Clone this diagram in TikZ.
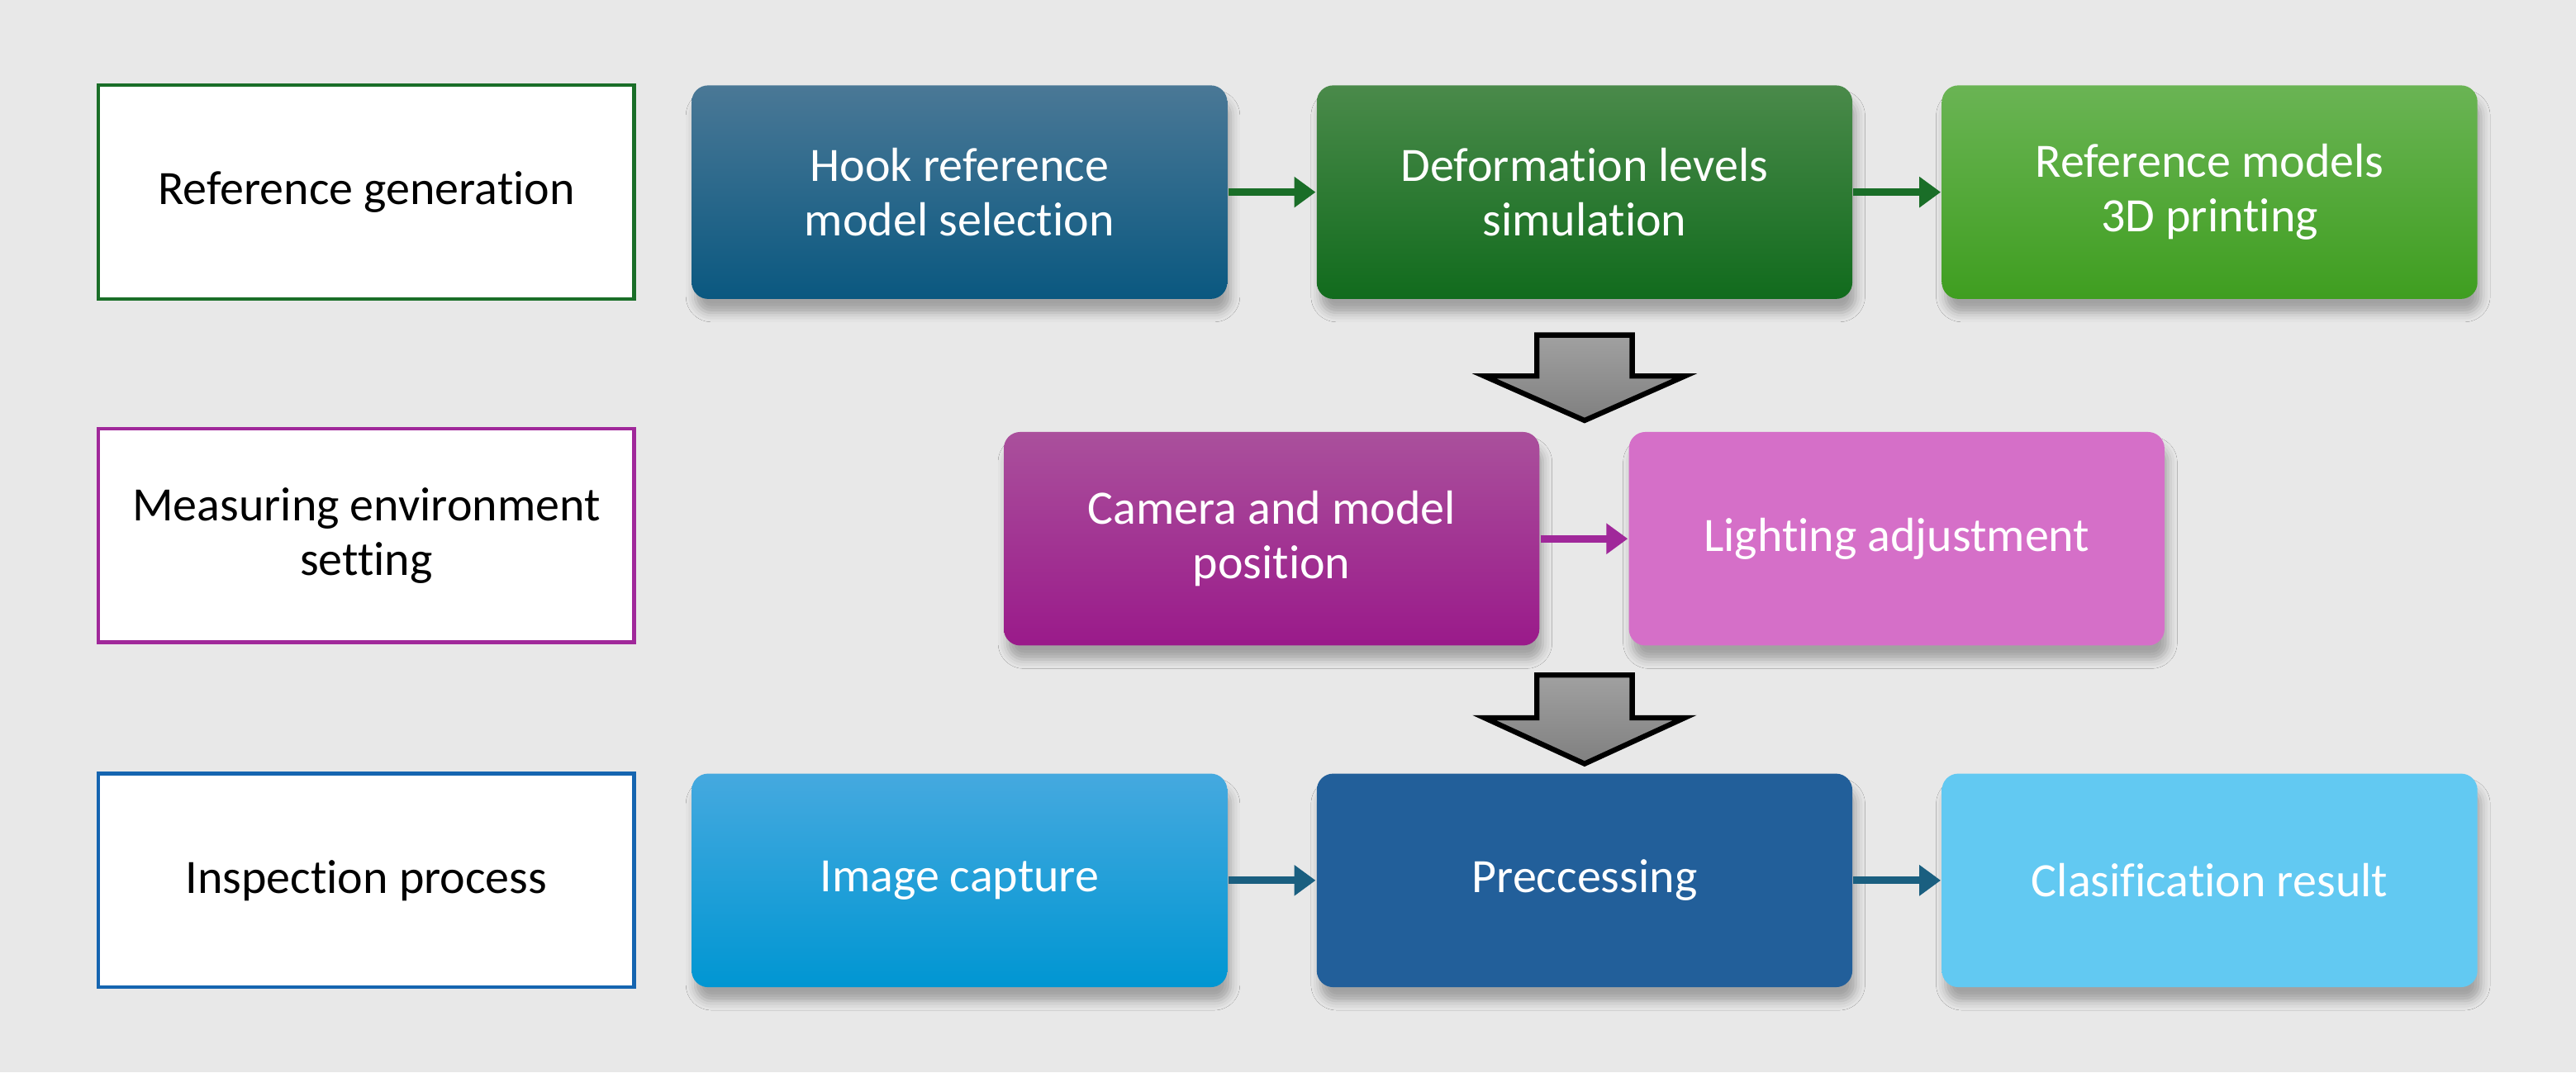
\documentclass[tikz,border=0pt]{standalone}
\usepackage{fontspec}
\setmainfont{Carlito}[Ligatures=NoCommon]
\usetikzlibrary{arrows.meta,shadows.blur}
\definecolor{bgc}{HTML}{E8E8E8}
\definecolor{lineA}{HTML}{1A6E28}
\definecolor{lineB}{HTML}{A0289A}
\definecolor{lineC}{HTML}{1565B0}
\definecolor{arrC}{HTML}{1A5F80}
\definecolor{hookT}{HTML}{4A7896}
\definecolor{hookB}{HTML}{0A5880}
\definecolor{defT}{HTML}{4A8A4A}
\definecolor{defB}{HTML}{116B1D}
\definecolor{prtT}{HTML}{6AB454}
\definecolor{prtB}{HTML}{3F9E20}
\definecolor{camT}{HTML}{AA509C}
\definecolor{camB}{HTML}{9A1A8A}
\definecolor{lgt}{HTML}{D56FC8}
\definecolor{imgT}{HTML}{45A9DF}
\definecolor{imgB}{HTML}{0096D2}
\definecolor{pre}{HTML}{225F9A}
\definecolor{cls}{HTML}{62C9F2}

\begin{document}
\begin{tikzpicture}
  [every node/.style={rectangle,minimum width=3.26cm,minimum height=1.30cm,align=center,inner sep=0pt,font=\fontsize{8.3}{9.4}\selectfont},
   lbl/.style={draw=#1,fill=white,line width=0.6pt,text=black},
   blk/.style 2 args={rounded corners=0.1cm,text=white,top color=#1,bottom color=#2,
     blur shadow={shadow xshift=0.6pt,shadow yshift=-2.4pt,shadow blur radius=1.6pt,shadow opacity=30}},
   lnk/.style={draw=#1,line width=1.3pt,-{Triangle[length=1.3mm,width=1.8mm]}},
   big/.style={draw=black,line width=0.9pt,top color=black!37,bottom color=black!50}]
  \fill[bgc] (0,0) rectangle (15.68,6.53);
  \useasboundingbox (0,0) rectangle (15.68,6.53);

  \node[lbl=lineA] (la) at (2.23,5.36) {Reference generation};
  \node[lbl=lineB] (lb) at (2.23,3.27) {Measuring environment\\setting};
  \node[lbl=lineC] (lc) at (2.23,1.17) {Inspection process};

  \node[blk={hookT}{hookB}] (a1) at (5.84,5.36)  {Hook reference\\model selection};
  \node[blk={defT}{defB}]   (a2) at (9.645,5.36) {Deformation levels\\simulation};
  \node[blk={prtT}{prtB}]   (a3) at (13.45,5.36) {Reference models\\3D printing};

  \node[blk={camT}{camB}] (b1) at (7.74,3.25)   {Camera and model\\position};
  \node[blk={lgt}{lgt}]   (b2) at (11.545,3.25) {Lighting adjustment};

  \node[blk={imgT}{imgB}] (c1) at (5.84,1.17)  {Image capture};
  \node[blk={pre}{pre}]   (c2) at (9.645,1.17) {Preccessing};
  \node[blk={cls}{cls}]   (c3) at (13.45,1.17) {Clasification result};

  \foreach \from/\to/\col in {a1/a2/lineA,a2/a3/lineA,b1/b2/lineB,c1/c2/arrC,c2/c3/arrC}
    \draw[lnk=\col] (\from) -- (\to);

  \coordinate (d1) at (9.645,4.49);
  \coordinate (d2) at (9.645,2.42);
  \draw[big] (d1) ++(-0.29,0) -- ++(0.58,0) -- ++(0,-0.25) -- ++(0.32,0) -- ++(-0.61,-0.27) -- ++(-0.61,0.27) -- ++(0.32,0) -- cycle;
  \draw[big] (d2) ++(-0.29,0) -- ++(0.58,0) -- ++(0,-0.26) -- ++(0.32,0) -- ++(-0.61,-0.28) -- ++(-0.61,0.28) -- ++(0.32,0) -- cycle;

\end{tikzpicture}
\end{document}
